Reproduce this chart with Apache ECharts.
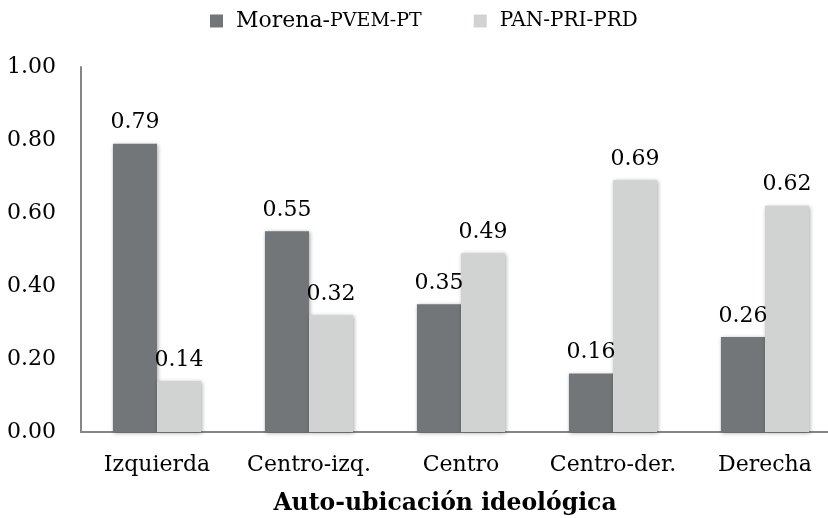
<!DOCTYPE html>
<html>
<head>
<meta charset="utf-8">
<script src="https://cdn.jsdelivr.net/npm/echarts@6/dist/echarts.min.js"></script>
<style>
  html, body { margin: 0; padding: 0; background: #fff; }
  #chart { width: 828px; height: 518px; }
</style>
</head>
<body>
<div id="chart"></div>
<script>
const categories = ["Izquierda", "Centro-izq.", "Centro", "Centro-der.", "Derecha"];
const morena = [0.79, 0.55, 0.35, 0.16, 0.26];
const pan = [0.14, 0.32, 0.49, 0.69, 0.62];
const yTicks = { min: 0, max: 1, interval: 0.2 };

const font = "DejaVu Serif";
const axisColor = "#868686";

const chart = echarts.init(document.getElementById("chart"));

function barSeries(name, data, color) {
  return {
    name: name,
    type: "bar",
    data: data,
    barGap: "0%",
    barCategoryGap: "42%",
    itemStyle: {
      color: color,
      shadowBlur: 4,
      shadowColor: "rgba(0,0,0,0.35)",
      shadowOffsetX: 1,
      shadowOffsetY: 1
    },
    label: {
      show: true,
      position: "top",
      distance: 10,
      fontFamily: font,
      fontSize: 22,
      color: "#000",
      formatter: p => p.value.toFixed(2)
    }
  };
}

chart.setOption({
  animation: false,
  title: {
    text: "Auto-ubicación ideológica",
    left: 445,
    top: 492,
    padding: 0,
    textAlign: "center",
    textStyle: { fontFamily: font, fontSize: 23.5, fontWeight: "bold", color: "#000" }
  },
  legend: {
    left: 210,
    top: 10,
    padding: 0,
    itemWidth: 13,
    itemHeight: 13,
    itemGap: 52,
    icon: "rect",
    data: ["Morena-PVEM-PT", "PAN-PRI-PRD"],
    formatter: name => {
      if (name === "Morena-PVEM-PT") return "{a|Morena-}{b|PVEM-PT}";
      return "{c|PAN-PRI-PRD}";
    },
    textStyle: {
      padding: [0, 0, 0, 8],
      rich: {
        a: { fontFamily: font, fontSize: 22, color: "#000" },
        b: { fontFamily: font, fontSize: 19, color: "#000" },
        c: { fontFamily: font, fontSize: 20, color: "#000" }
      }
    }
  },
  grid: { left: 81, width: 760, top: 67, bottom: 86, outerBoundsMode: "none", containLabel: false },
  xAxis: {
    type: "category",
    data: categories,
    axisLine: { lineStyle: { color: axisColor, width: 2 } },
    axisTick: { show: false },
    axisLabel: { fontFamily: font, fontSize: 22, color: "#000", margin: 22, interval: 0 }
  },
  yAxis: {
    type: "value",
    min: yTicks.min,
    max: yTicks.max,
    interval: yTicks.interval,
    axisLine: { show: true, lineStyle: { color: axisColor, width: 2 } },
    axisTick: { show: false },
    splitLine: { show: false },
    axisLabel: {
      fontFamily: font,
      fontSize: 22,
      color: "#000",
      margin: 25,
      formatter: v => v.toFixed(2)
    }
  },
  series: [
    barSeries("Morena-PVEM-PT", morena, "#727679"),
    barSeries("PAN-PRI-PRD", pan, "#d1d3d2")
  ]
});
</script>
</body>
</html>
